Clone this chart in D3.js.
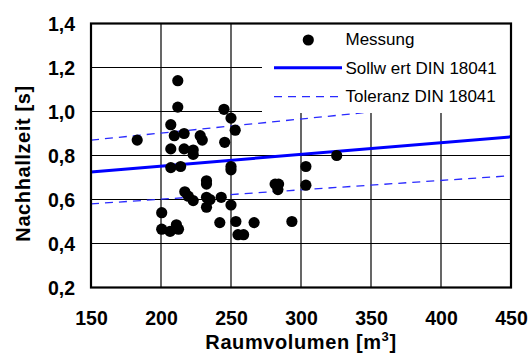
<!DOCTYPE html>
<html><head><meta charset="utf-8">
<script src="https://cdn.jsdelivr.net/npm/d3@7"></script>
<style>body{margin:0;background:#fff}svg{display:block}</style>
</head><body>
<svg id="c" width="530" height="354"></svg>
<script>
// data
const xTicks = [150, 200, 250, 300, 350, 400, 450];
const yTicks = [0.2, 0.4, 0.6, 0.8, 1.0, 1.2, 1.4];
const messVolumen = [183, 212, 212, 245, 250, 253, 207, 209.5, 216.5, 228, 229.5, 245.5, 207, 216.5, 223, 223,
  207, 214, 250, 250, 232.5, 232.5, 217, 219.5, 223, 232.5, 235, 243, 232.5, 250, 200.5, 242, 253.5, 266.5,
  200.5, 206.5, 211, 212.5, 255, 259, 281.5, 284, 283.5, 303.5, 303.5, 325.5, 293.5];
const messZeit = [0.87, 1.14, 1.02, 1.01, 0.97, 0.915, 0.94, 0.89, 0.90, 0.89, 0.87, 0.86, 0.83, 0.83, 0.825, 0.805,
  0.745, 0.75, 0.75, 0.735, 0.685, 0.67, 0.635, 0.615, 0.595, 0.61, 0.60, 0.61, 0.565, 0.575, 0.54, 0.495, 0.50, 0.495,
  0.465, 0.455, 0.485, 0.465, 0.44, 0.44, 0.67, 0.67, 0.645, 0.75, 0.665, 0.80, 0.50];
const sollVolumen = [150, 450];
const sollZeit = [0.725, 0.885];
const tolOben = [0.87, 1.062];
const tolUnten = [0.58, 0.708];
const legendLabels = ["Messung", "Sollw ert DIN 18041", "Toleranz DIN 18041"];

const svg = d3.select("#c");
const L = 91, R = 511, T = 23.5, B = 287.5;
const x = d3.scaleLinear().domain([150, 450]).range([L, R]);
const y = d3.scaleLinear().domain([0.2, 1.4]).range([B, T]);
const font = "'Liberation Sans', Arial, sans-serif";

// grid
const g = svg.append("g");
g.selectAll("line.v").data(xTicks.slice(1, -1)).join("line")
  .attr("x1", d => x(d)).attr("x2", d => x(d)).attr("y1", T).attr("y2", B)
  .attr("stroke", "#000").attr("stroke-width", 1.2);
g.selectAll("line.h").data(yTicks.slice(1, -1)).join("line")
  .attr("y1", d => y(d)).attr("y2", d => y(d)).attr("x1", L).attr("x2", R)
  .attr("stroke", "#000").attr("stroke-width", 1.2);

// lines
const idx = d3.range(sollVolumen.length);
const mk = arr => d3.line().x(i => x(sollVolumen[i])).y(i => y(arr[i]));
svg.append("path").attr("d", mk(tolOben)(idx)).attr("fill", "none")
  .attr("stroke", "#2a2aff").attr("stroke-width", 1.3).attr("stroke-dasharray", "8,6");
svg.append("path").attr("d", mk(tolUnten)(idx)).attr("fill", "none")
  .attr("stroke", "#2a2aff").attr("stroke-width", 1.3).attr("stroke-dasharray", "8,6");
svg.append("path").attr("d", mk(sollZeit)(idx)).attr("fill", "none")
  .attr("stroke", "#0000ff").attr("stroke-width", 3);

// points
svg.selectAll("circle.m").data(d3.range(messVolumen.length)).join("circle")
  .attr("cx", i => x(messVolumen[i])).attr("cy", i => y(messZeit[i])).attr("r", 5.6).attr("fill", "#000");

// legend
const lg = svg.append("g");
lg.append("rect").attr("x", 262).attr("y", T).attr("width", R - 262).attr("height", 113 - T).attr("fill", "#fff");
lg.append("circle").attr("cx", 308.3).attr("cy", 40).attr("r", 5.6).attr("fill", "#000");
lg.append("line").attr("x1", 274).attr("x2", 342).attr("y1", 67.7).attr("y2", 67.7)
  .attr("stroke", "#0000ff").attr("stroke-width", 3);
lg.append("line").attr("x1", 274).attr("x2", 342).attr("y1", 96.7).attr("y2", 96.7)
  .attr("stroke", "#2a2aff").attr("stroke-width", 1.3).attr("stroke-dasharray", "8,6");
lg.selectAll("text").data(legendLabels).join("text")
  .attr("x", 345.5).attr("y", (d, i) => 45 + i * 28.5)
  .attr("font-family", font).attr("font-size", 17).attr("fill", "#000").text(d => d);

// frame
svg.append("rect").attr("x", L).attr("y", T).attr("width", R - L).attr("height", B - T)
  .attr("fill", "none").attr("stroke", "#000").attr("stroke-width", 2.2);

// axes
const xa = svg.append("g").attr("transform", `translate(0,${B})`)
  .call(d3.axisBottom(x).tickValues(xTicks).tickSize(0).tickPadding(0).tickFormat(d3.format("d")));
xa.select(".domain").remove();
xa.selectAll("text").attr("y", 0).attr("dy", null).attr("transform", "translate(0,37.5)")
  .attr("font-family", font).attr("font-weight", "bold").attr("font-size", 19.5).attr("fill", "#000");

const ya = svg.append("g").attr("transform", `translate(${L},0)`)
  .call(d3.axisLeft(y).tickValues(yTicks).tickSize(0).tickPadding(16)
    .tickFormat(d => d3.format(".1f")(d).replace(".", ",")));
ya.select(".domain").remove();
ya.selectAll("text").attr("font-family", font).attr("font-weight", "bold").attr("font-size", 19.5).attr("fill", "#000")
  .attr("dy", "0.36em");

// titles
const xt = svg.append("text").attr("x", (L + R) / 2).attr("y", 349).attr("text-anchor", "middle")
  .attr("font-family", font).attr("font-weight", "bold").attr("font-size", 20).attr("letter-spacing", 0.6);
xt.append("tspan").text("Raumvolumen [m");
xt.append("tspan").attr("font-size", 13).attr("dy", -8).text("3");
xt.append("tspan").attr("dy", 8).text("]");

svg.append("text").attr("transform", `translate(30,${(T + B) / 2 + 8}) rotate(-90)`).attr("text-anchor", "middle")
  .attr("font-family", font).attr("font-weight", "bold").attr("font-size", 20).attr("letter-spacing", 0.6)
  .text("Nachhallzeit [s]");
</script>
</body></html>
